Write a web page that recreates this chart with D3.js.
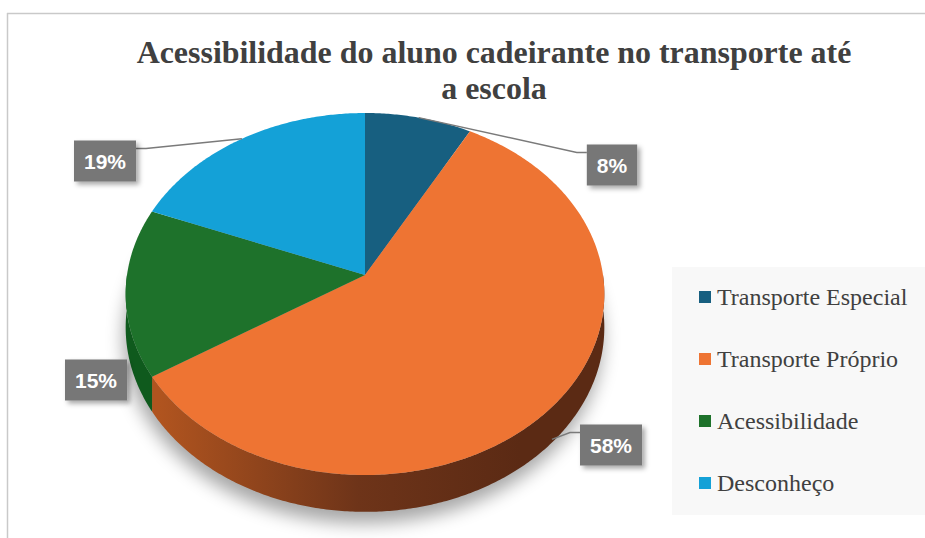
<!DOCTYPE html>
<html>
<head>
<meta charset="utf-8">
<script src="https://cdn.jsdelivr.net/npm/d3@7"></script>
<style>
  body { margin: 0; background: #fff; }
  svg { display: block; }
</style>
</head>
<body>
<div id="chart"></div>
<script>
// data
const categories = ["Transporte Especial", "Transporte Próprio", "Acessibilidade", "Desconheço"];
const values = [8, 58, 15, 19];
const valueLabels = ["8%", "58%", "15%", "19%"];
const titleLines = ["Acessibilidade do aluno cadeirante no transporte até", "a escola"];

// styles
const serif = '"Liberation Serif", "Times New Roman", serif';
const topColors = ["#175f80", "#ee7433", "#1e722b", "#14a1d7"];
const sideColors = ["#0f4560", "url(#sideOrange)", "#0f5a1d", "#0c7aa6"];
// label box centres (layout)
const labelPos = [[612, 165], [611, 445], [96, 380], [105, 161]];
const leaderAtBottom = [false, true, false, false];

const width = 925, height = 538;
const cx = 365, cy = 275, rx = 238, ry = 179, persp = 0.105, depth = 33;

const svg = d3.select("#chart").append("svg")
    .attr("width", width)
    .attr("height", height);

const defs = svg.append("defs");
const g1 = defs.append("linearGradient").attr("id", "sideOrange")
    .attr("gradientUnits", "userSpaceOnUse")
    .attr("x1", 160).attr("x2", 520).attr("y1", 0).attr("y2", 0);
g1.append("stop").attr("offset", "0%").attr("stop-color", "#b0541f");
g1.append("stop").attr("offset", "55%").attr("stop-color", "#6e3419");
g1.append("stop").attr("offset", "100%").attr("stop-color", "#5b2a14");

defs.append("filter").attr("id", "pieShadow")
    .attr("x", "-20%").attr("y", "-20%").attr("width", "140%").attr("height", "140%")
    .append("feGaussianBlur").attr("stdDeviation", 9);

const boxShadow = defs.append("filter").attr("id", "boxShadow")
    .attr("x", "-30%").attr("y", "-30%").attr("width", "160%").attr("height", "160%");
boxShadow.append("feDropShadow")
    .attr("dx", 3).attr("dy", 3).attr("stdDeviation", 2.5)
    .attr("flood-color", "#000").attr("flood-opacity", 0.35);

// chart frame
svg.append("line").attr("x1", 7).attr("x2", width).attr("y1", 13.5).attr("y2", 13.5)
    .attr("stroke", "#c9c9c9").attr("stroke-width", 1.5);
svg.append("line").attr("x1", 7.5).attr("x2", 7.5).attr("y1", 13).attr("y2", height)
    .attr("stroke", "#c9c9c9").attr("stroke-width", 1.5);

// title
const title = svg.append("g").selectAll("text")
    .data(titleLines)
    .enter().append("text")
    .attr("x", 494)
    .attr("y", (d, i) => 63 + i * 36)
    .attr("text-anchor", "middle")
    .style("font-family", serif)
    .style("font-weight", "bold")
    .style("font-size", "32px")
    .attr("fill", "#404040")
    .text(d => d);
const titleW = title.nodes()[0].getComputedTextLength();
title.style("font-size", (32 * 715 / titleW) + "px");

// projection of a point on the tilted disc
function proj(a, r, z) {
    const u = r * Math.sin(a), v = -r * Math.cos(a);
    const f = 1 / (1 - persp * v);
    return [cx + rx * u * f, cy + (ry * v + z) * f];
}
function arcPoints(a0, a1, z) {
    const n = Math.max(2, Math.ceil((a1 - a0) / 0.01));
    return d3.range(n + 1).map(i => proj(a0 + (a1 - a0) * i / n, 1, z));
}

const pie = d3.pie().sort(null).startAngle(0).endAngle(2 * Math.PI);
const arcs = pie(values);
const line = d3.line();

// shadow under the pie
svg.append("path")
    .attr("d", line(arcPoints(0, 2 * Math.PI, depth + 4)) + "Z")
    .attr("transform", "translate(-2,7)")
    .attr("fill", "#000")
    .attr("opacity", 0.35)
    .attr("filter", "url(#pieShadow)");

// side walls (front half only)
svg.append("g").selectAll("path")
    .data(arcs)
    .enter().append("path")
    .attr("d", d => {
        const a0 = Math.max(d.startAngle, Math.PI / 2);
        const a1 = Math.min(d.endAngle, 3 * Math.PI / 2);
        if (a1 <= a0) return null;
        const pts = arcPoints(a0, a1, 0).concat(arcPoints(a0, a1, depth).reverse());
        return line(pts) + "Z";
    })
    .attr("fill", (d, i) => sideColors[i]);

// top faces
svg.append("g").selectAll("path")
    .data(arcs)
    .enter().append("path")
    .attr("d", d => line([[cx, cy]].concat(arcPoints(d.startAngle, d.endAngle, 0))) + "Z")
    .attr("fill", (d, i) => topColors[i]);

// data labels with leader lines
const labels = svg.append("g");
arcs.forEach((d, i) => {
    const mid = (d.startAngle + d.endAngle) / 2;
    const [bx, by] = labelPos[i];
    const t = labels.append("text")
        .attr("x", bx).attr("y", by + 8)
        .attr("text-anchor", "middle")
        .style("font-family", '"Liberation Sans", Arial, sans-serif')
        .style("font-weight", "bold")
        .style("font-size", "21px")
        .attr("fill", "#fff")
        .text(valueLabels[i]);
    const tw = t.node().getComputedTextLength();
    const bw = tw + 20, bh = 41;
    const left = bx - bw / 2, top = by - bh / 2;

    const anchor = proj(mid, 1, leaderAtBottom[i] ? depth - 3 : 0);
    const boxEdgeX = anchor[0] < left ? left : left + bw;
    const inside = anchor[0] >= left && anchor[0] <= left + bw;
    if (!inside) {
        const dir = anchor[0] < left ? -1 : 1;
        const ly = top + 8;
        labels.insert("path", "text")
            .attr("d", line([anchor, [boxEdgeX + dir * 10, ly], [boxEdgeX, ly]]))
            .attr("fill", "none")
            .attr("stroke", "#7a7a7a")
            .attr("stroke-width", 1.5);
    }
    labels.insert("rect", "text")
        .attr("x", left).attr("y", top)
        .attr("width", bw).attr("height", bh)
        .attr("fill", "#777")
        .attr("filter", "url(#boxShadow)");
});

// legend
const legend = svg.append("g");
legend.append("rect")
    .attr("x", 672).attr("y", 267)
    .attr("width", width - 672).attr("height", 248)
    .attr("fill", "#f8f8f8");

const item = legend.selectAll("g.item")
    .data(categories)
    .enter().append("g")
    .attr("class", "item")
    .attr("transform", (d, i) => `translate(699,${297 + i * 62})`);

item.append("rect")
    .attr("x", 0).attr("y", -6)
    .attr("width", 12).attr("height", 12)
    .attr("fill", (d, i) => topColors[i]);

item.append("text")
    .attr("x", 18).attr("y", 8)
    .style("font-family", serif)
    .style("font-size", "24px")
    .attr("fill", "#404040")
    .text(d => d);
</script>
</body>
</html>
